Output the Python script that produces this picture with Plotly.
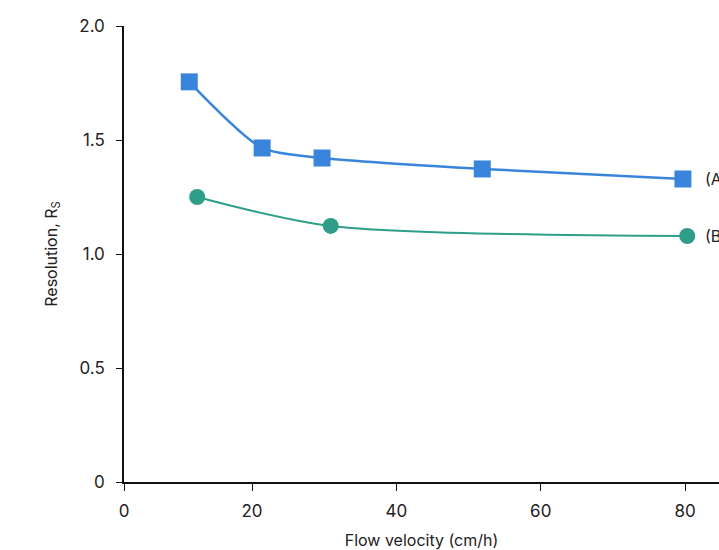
import plotly.graph_objects as go

# Data
a_x = [11.3, 21.4, 29.7, 51.9, 79.7]
a_y = [1.755, 1.465, 1.421, 1.373, 1.329]
b_x = [12.4, 30.9, 80.3]
b_y = [1.25, 1.123, 1.079]

x_tickvals = [2.26, 20, 40, 60, 80]
x_ticktext = ["0", "20", "40", "60", "80"]
y_tickvals = [0, 0.5, 1.0, 1.5, 2.0]
y_ticktext = ["0", "0.5", "1.0", "1.5", "2.0"]

blue = "#3a85dc"
green = "#2e9e88"
font = "Inter, Roboto, sans-serif"

fig = go.Figure()
fig.add_trace(go.Scatter(x=a_x, y=a_y, mode="lines+markers", name="A",
                         line=dict(color=blue, width=2.5, shape="spline", smoothing=0.7),
                         marker=dict(symbol="square", size=17, color=blue), cliponaxis=False))
fig.add_trace(go.Scatter(x=b_x, y=b_y, mode="lines+markers", name="B",
                         line=dict(color=green, width=2, shape="spline", smoothing=0.8),
                         marker=dict(symbol="circle", size=16, color=green), cliponaxis=False))

fig.add_annotation(x=a_x[-1], y=a_y[-1], text="(A)", xanchor="left", xshift=20,
                   showarrow=False, font=dict(family=font, size=16, color="#222"))
fig.add_annotation(x=b_x[-1], y=b_y[-1], text="(B)", xanchor="left", xshift=16,
                   showarrow=False, font=dict(family=font, size=16, color="#222"))

fig.update_layout(
    width=719, height=550,
    margin=dict(l=124, r=0, t=26, b=68),
    paper_bgcolor="white", plot_bgcolor="white",
    showlegend=False,
    font=dict(family=font, size=16, color="#222"),
    xaxis=dict(range=[2.26, 84.7], tickvals=x_tickvals, ticktext=x_ticktext,
               showline=True, linecolor="#111", linewidth=1.5, ticks="outside",
               ticklen=7, tickcolor="#111", showgrid=False, zeroline=False,
               ticklabelstandoff=6, automargin=False, tickfont=dict(size=17),
               title=dict(text="Flow velocity (cm/h)", standoff=16, font=dict(size=16))),
    yaxis=dict(range=[0, 2.0], tickvals=y_tickvals, ticktext=y_ticktext,
               showline=True, linecolor="#111", linewidth=1.5, ticks="outside",
               ticklen=6, tickcolor="#111", showgrid=False, zeroline=False,
               ticklabelstandoff=8, automargin=False, tickfont=dict(size=17),
               title=dict(text="Resolution, R<sub>S</sub>", standoff=18, font=dict(size=16))),
)

# remove the default page margin so the 719x550 figure fills the window exactly
fig.write_html("out.html", config={"displayModeBar": False},
               post_script="document.body.style.margin='0';document.body.style.overflow='hidden';")
